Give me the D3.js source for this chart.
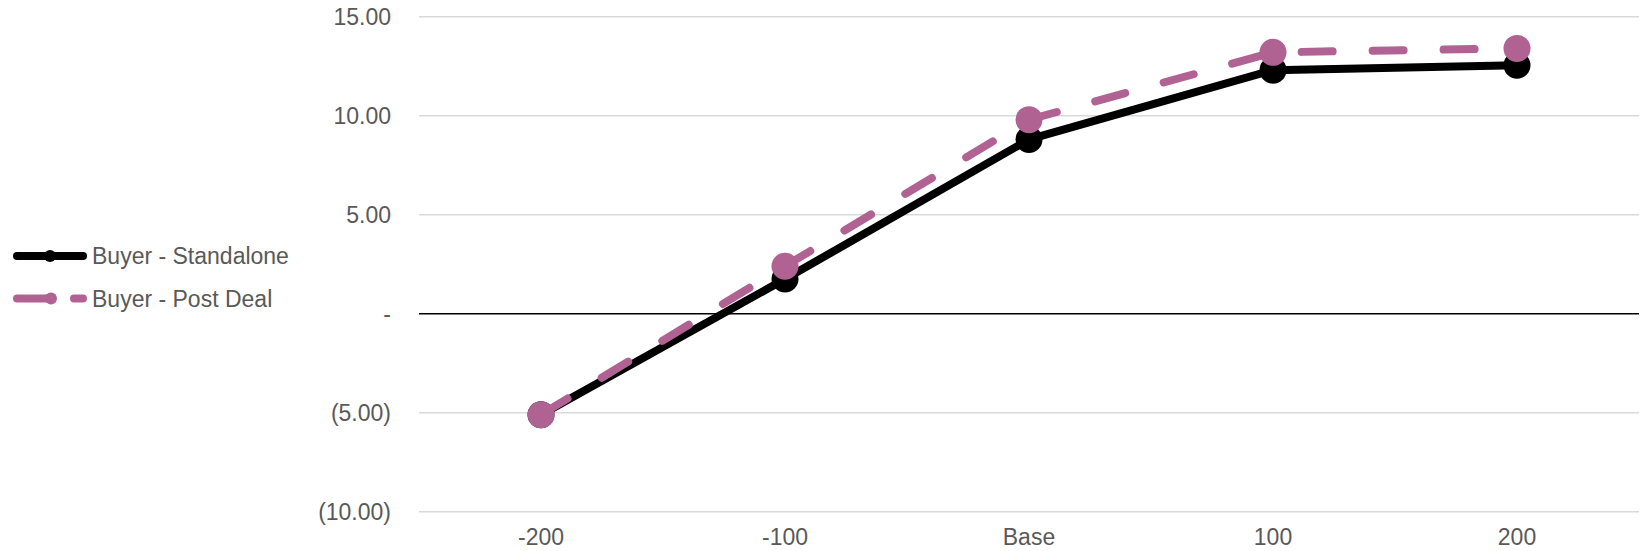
<!DOCTYPE html>
<html>
<head>
<meta charset="utf-8">
<script src="https://cdn.jsdelivr.net/npm/d3@7/dist/d3.min.js"></script>
<style>
  html, body { margin: 0; padding: 0; background: #fff; }
  svg { display: block; }
  text { font-family: "Liberation Sans", Arial, sans-serif; fill: #595959; }
</style>
</head>
<body>
<svg id="chart" width="1644" height="551"></svg>
<script>
const categories = ["-200", "-100", "Base", "100", "200"];
const standalone = [-5.1, 1.75, 8.8, 12.3, 12.55];
const postDeal = [-5.1, 2.4, 9.8, 13.2, 13.4];
const yTicks = [-10, -5, 0, 5, 10, 15];
const seriesNames = ["Buyer - Standalone", "Buyer - Post Deal"];

const plotLeft = 419, plotRight = 1639, plotTop = 16.7, plotBottom = 511.7;
const fs = 23;
const black = "#000000", pink = "#b06393";

const svg = d3.select("#chart");

const x = d3.scaleBand().domain(categories).range([plotLeft, plotRight]).padding(0);
const y = d3.scaleLinear().domain([-10, 15]).range([plotBottom, plotTop]);

const fmt = v => v === 0 ? "-" : (v < 0 ? "(" + d3.format(".2f")(-v) + ")" : d3.format(".2f")(v));

// gridlines
svg.append("g").selectAll("line").data(yTicks.filter(d => d !== 0)).join("line")
  .attr("x1", plotLeft).attr("x2", plotRight)
  .attr("y1", d => y(d)).attr("y2", d => y(d))
  .attr("stroke", "#d9d9d9").attr("stroke-width", 1.5);

// zero line
svg.append("line")
  .attr("x1", plotLeft).attr("x2", plotRight)
  .attr("y1", y(0)).attr("y2", y(0))
  .attr("stroke", "#000").attr("stroke-width", 1.5);

// y axis
const yAxis = svg.append("g").attr("transform", `translate(${plotLeft},0)`)
  .call(d3.axisLeft(y).tickValues(yTicks).tickFormat(fmt).tickSize(0).tickPadding(28));
yAxis.select(".domain").remove();
yAxis.selectAll("text").style("font-size", fs + "px").attr("fill", "#595959")
  .style("font-family", '"Liberation Sans", Arial, sans-serif');

// x axis
const xAxis = svg.append("g").attr("transform", `translate(0,${plotBottom})`)
  .call(d3.axisBottom(x).tickSize(0).tickPadding(17));
xAxis.select(".domain").remove();
xAxis.selectAll("text").style("font-size", fs + "px").attr("fill", "#595959")
  .style("font-family", '"Liberation Sans", Arial, sans-serif');

const cx = d => x(d) + x.bandwidth() / 2;
const line = d3.line().x((d, i) => cx(categories[i])).y(d => y(d));

// standalone
svg.append("path").datum(standalone)
  .attr("d", line).attr("fill", "none")
  .attr("stroke", black).attr("stroke-width", 8).attr("stroke-linejoin", "round").attr("stroke-linecap", "round");
svg.append("g").selectAll("circle").data(standalone).join("circle")
  .attr("cx", (d, i) => cx(categories[i])).attr("cy", d => y(d)).attr("r", 13.5).attr("fill", black);

// post deal
svg.append("path").datum(postDeal)
  .attr("d", line).attr("fill", "none")
  .attr("stroke", pink).attr("stroke-width", 8).attr("stroke-linecap", "round")
  .attr("stroke-dasharray", "31,40");
svg.append("g").selectAll("circle").data(postDeal).join("circle")
  .attr("cx", (d, i) => cx(categories[i])).attr("cy", d => y(d)).attr("r", 13.5).attr("fill", pink);

// legend
const leg = svg.append("g");
const legY = [256, 298.5];
leg.append("line").attr("x1", 17).attr("x2", 83).attr("y1", legY[0]).attr("y2", legY[0])
  .attr("stroke", black).attr("stroke-width", 8).attr("stroke-linecap", "round");
leg.append("circle").attr("cx", 50).attr("cy", legY[0]).attr("r", 6).attr("fill", black);
leg.append("line").attr("x1", 17).attr("x2", 83).attr("y1", legY[1]).attr("y2", legY[1])
  .attr("stroke", pink).attr("stroke-width", 8).attr("stroke-linecap", "round")
  .attr("stroke-dasharray", "30,27");
leg.append("circle").attr("cx", 51).attr("cy", legY[1]).attr("r", 6).attr("fill", pink);
leg.selectAll("text").data(seriesNames).join("text")
  .attr("x", 92).attr("y", (d, i) => legY[i]).attr("dy", "0.35em")
  .style("font-size", fs + "px").text(d => d);
</script>
</body>
</html>
